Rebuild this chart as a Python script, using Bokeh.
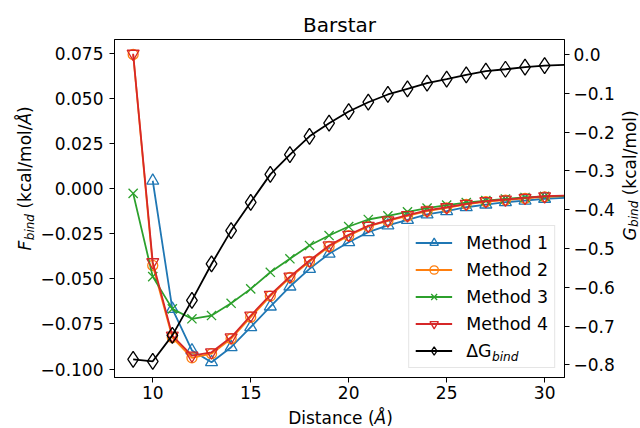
import math
import numpy as np
from bokeh.plotting import figure
from bokeh.layouts import row, column
from bokeh.models import (Range1d, LinearAxis, FixedTicker, Legend, LegendItem,
                          Label, ColumnDataSource)
from bokeh.embed import file_html
from bokeh.resources import INLINE

nan = float("nan")

# ---------------- data ----------------
distance = [9, 10, 11, 12, 13, 14, 15, 16, 17, 18, 19, 20,
            21, 22, 23, 24, 25, 26, 27, 28, 29, 30, 31]
n_markers = 22  # markers drawn at 9..30

method1 = [nan, 0.0045, -0.0666, -0.0897, -0.0962, -0.0879, -0.0768, -0.0653,
           -0.0542, -0.0444, -0.0360, -0.0296, -0.0240, -0.0203, -0.0172,
           -0.0142, -0.0124, -0.0102, -0.0087, -0.0074, -0.0065, -0.0055, -0.0050]
method2 = [0.0746, -0.0425, -0.0825, -0.0938, -0.0915, -0.0832, -0.0712, -0.0595,
           -0.0492, -0.0403, -0.0320, -0.0260, -0.0208, -0.0178, -0.0150,
           -0.0124, -0.0105, -0.0086, -0.0071, -0.0062, -0.0053, -0.0044, -0.0040]
method3 = [-0.0025, -0.0487, -0.0666, -0.0721, -0.0703, -0.0635, -0.0555, -0.0463,
           -0.0388, -0.0314, -0.0259, -0.0209, -0.0170, -0.0150, -0.0128,
           -0.0107, -0.0090, -0.0076, -0.0065, -0.0056, -0.0048, -0.0042, -0.0040]
method4 = [0.0750, -0.0407, -0.0814, -0.0925, -0.0907, -0.0824, -0.0703, -0.0588,
           -0.0487, -0.0398, -0.0314, -0.0255, -0.0205, -0.0175, -0.0146,
           -0.0120, -0.0102, -0.0083, -0.0068, -0.0059, -0.0050, -0.0041, -0.0037]
delta_g = [-0.786, -0.791, -0.724, -0.634, -0.540, -0.454, -0.381, -0.309,
           -0.258, -0.211, -0.177, -0.147, -0.123, -0.103, -0.0885,
           -0.074, -0.0636, -0.0524, -0.043, -0.038, -0.0327, -0.0284, -0.0266]

x_ticks = [10, 15, 20, 25, 30]
f_ticks = [-0.100, -0.075, -0.050, -0.025, 0.0, 0.025, 0.050, 0.075]
f_tick_labels = ["\u22120.100", "\u22120.075", "\u22120.050", "\u22120.025",
                 "0.000", "0.025", "0.050", "0.075"]
g_ticks = [-0.8, -0.7, -0.6, -0.5, -0.4, -0.3, -0.2, -0.1, 0.0]
g_tick_labels = ["\u22120.8", "\u22120.7", "\u22120.6", "\u22120.5", "\u22120.4",
                 "\u22120.3", "\u22120.2", "\u22120.1", "0.0"]

series_names = ["Method 1", "Method 2", "Method 3", "Method 4"]
colors = ["#1f77b4", "#ff7f0e", "#2ca02c", "#d62728"]
markers = ["triangle", "circle", "x", "inverted_triangle"]
marker_sizes = [12, 10, 13, 12]

FONT = "DejaVu Sans"
W, H = 640, 428
LEFT_W, MAIN_W, RIGHT_W = 37, 580, 23
MAIN_H, BOTTOM_H = 405, 23
SHIFT = 0.27  # baseline correction (fraction of font size)

# ---------------- main figure ----------------
p = figure(width=MAIN_W, height=MAIN_H, output_backend="svg",
           toolbar_location=None,
           x_range=Range1d(8.048, 31.014), y_range=Range1d(-0.1047, 0.0829),
           min_border_left=76, min_border_right=51, min_border_top=39,
           min_border_bottom=28, title="Barstar")
p.extra_y_ranges = {"g": Range1d(-0.8327, 0.0387)}

p.title.text_font = FONT
p.title.text_font_size = "20px"
p.title.text_font_style = "normal"
p.title.align = "center"
p.title.standoff = 6
p.title.text_color = "black"

p.xgrid.visible = False
p.ygrid.visible = False
p.outline_line_color = "black"
p.outline_line_alpha = 1.0
p.outline_line_width = 1
p.background_fill_color = "white"
p.border_fill_color = "white"

gaxis = LinearAxis(y_range_name="g")
p.add_layout(gaxis, "right")

p.xaxis.ticker = FixedTicker(ticks=x_ticks)
p.yaxis[0].ticker = FixedTicker(ticks=f_ticks)
p.yaxis[0].major_label_overrides = dict(zip(f_ticks, f_tick_labels))
gaxis.ticker = FixedTicker(ticks=g_ticks)
gaxis.major_label_overrides = dict(zip(g_ticks, g_tick_labels))

for ax in [p.xaxis[0], p.yaxis[0], gaxis]:
    ax.major_label_text_font = FONT
    ax.major_label_text_font_size = "17px"
    ax.major_label_text_color = "black"
    ax.major_tick_out = 5
    ax.major_tick_in = 0
    ax.major_tick_line_color = "black"
    ax.minor_tick_line_color = None
    ax.axis_line_color = "black"
p.xaxis[0].major_label_standoff = 3
p.yaxis[0].major_label_standoff = 6
gaxis.major_label_standoff = 4

# ---------------- glyphs ----------------
line_src = ColumnDataSource(dict(
    distance=np.array(distance, dtype=float),
    m1=np.array(method1), m2=np.array(method2), m3=np.array(method3),
    m4=np.array(method4), dg=np.array(delta_g)))
mark_src = ColumnDataSource(dict(
    distance=np.array(distance[:n_markers], dtype=float),
    m1=np.array(method1[:n_markers]), m2=np.array(method2[:n_markers]),
    m3=np.array(method3[:n_markers]), m4=np.array(method4[:n_markers]),
    dg=np.array(delta_g[:n_markers])))

items = []
for key, name, col, mk, ms in zip(["m1", "m2", "m3", "m4"], series_names,
                                  colors, markers, marker_sizes):
    lr = p.line("distance", key, source=line_src, line_color=col, line_width=1.8)
    sr = p.scatter("distance", key, source=mark_src, marker=mk, size=ms,
                   line_color=col, line_width=1.3, fill_alpha=0)
    items.append(LegendItem(label=name, renderers=[lr, sr]))

lg = p.line("distance", "dg", source=line_src, y_range_name="g",
            line_color="black", line_width=1.8)
sg = p.scatter("distance", "dg", source=mark_src, y_range_name="g",
               marker="diamond", size=16, line_color="black",
               line_width=1.3, fill_alpha=0)
items.append(LegendItem(label="\u0394G", renderers=[lg, sg]))

legend = Legend(items=items, location="bottom_right", margin=9, padding=6,
                spacing=6, glyph_width=37, glyph_height=21, label_height=21,
                label_standoff=14, label_text_font=FONT,
                label_text_font_size="17.4px", label_text_color="black",
                border_line_color="#cccccc", border_line_width=1,
                background_fill_color="white", background_fill_alpha=0.0)
p.add_layout(legend)


def make_text(text, x, y, size, italic=False, angle=0.0, level="annotation"):
    return Label(x=x, y=y, x_units="screen", y_units="screen", text=text,
                 text_font=FONT, text_font_size=f"{size}px",
                 text_font_style="italic" if italic else "normal",
                 text_baseline="alphabetic", text_align="left",
                 angle=angle, text_color="black", level=level)


# legend subscript for ΔG_bind
p.add_layout(make_text("bind", 377.5, 17.0 + SHIFT * 12.2, 12.2, True, 0.0,
                       "overlay"))


# ---------------- strips holding the axis titles ----------------
def strip(width, height):
    s = figure(width=width, height=height, output_backend="svg",
               toolbar_location=None, x_range=Range1d(0, 1),
               y_range=Range1d(0, 1), min_border=0,
               x_axis_location=None, y_axis_location=None)
    s.grid.visible = False
    s.outline_line_color = None
    s.background_fill_color = "white"
    s.border_fill_color = "white"
    return s


up = math.pi / 2
left = strip(LEFT_W, MAIN_H)
# baselines (rotated text: "down" is +x)
lx, ly = 29.5 - SHIFT * 17, 150.0 - BOTTOM_H
lsx = 33.0 - SHIFT * 12
for lab in [make_text("F", lx, ly, 17, True, up),
            make_text("bind", lsx, ly + 10.3, 12, True, up),
            make_text("(kcal/mol/", lx, ly + 41.9, 17, False, up),
            make_text("\u00c5", lx, ly + 126.0, 17, True, up),
            make_text(")", lx, ly + 137.6, 17, False, up)]:
    left.add_layout(lab)

right = strip(RIGHT_W, MAIN_H)
rx, ry = 17.0 - SHIFT * 17, 160.0 - BOTTOM_H
rsx = 20.0 - SHIFT * 12
for lab in [make_text("G", rx, ry, 17, True, up),
            make_text("bind", rsx, ry + 13.6, 12, True, up),
            make_text("(kcal/mol)", rx, ry + 45.2, 17, False, up)]:
    right.add_layout(lab)

bottom = strip(W, BOTTOM_H)
bx, by = 287.7, 6.0 + SHIFT * 17
for lab in [make_text("Distance (", bx, by, 17, False),
            make_text("\u00c5", bx + 86.4, by, 17, True),
            make_text(")", bx + 98.0, by, 17, False)]:
    bottom.add_layout(lab)

layout = column(row(left, p, right, spacing=0), bottom, spacing=0)

with open("out.html", "w", encoding="utf-8") as f:
    f.write(file_html(layout, INLINE))
